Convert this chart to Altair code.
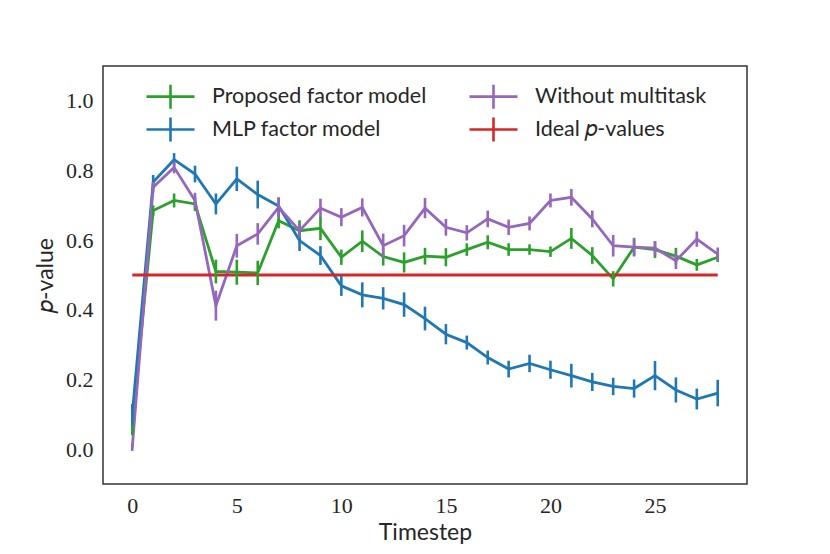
import altair as alt
import pandas as pd

timesteps = list(range(29))
proposed = [0.07, 0.685, 0.714, 0.704, 0.510, 0.508, 0.506, 0.656, 0.627, 0.634, 0.551, 0.597, 0.553, 0.536, 0.554,
            0.551, 0.573, 0.594, 0.573, 0.573, 0.567, 0.605, 0.556, 0.489, 0.580, 0.573, 0.554, 0.529, 0.551]
proposed_err = [0.03, 0.015, 0.02, 0.02, 0.034, 0.036, 0.035, 0.022, 0.03, 0.034, 0.022, 0.031, 0.026, 0.029, 0.024,
                0.026, 0.018, 0.02, 0.018, 0.015, 0.015, 0.03, 0.024, 0.022, 0.024, 0.024, 0.024, 0.017, 0.014]
mlp = [0.10, 0.767, 0.831, 0.790, 0.704, 0.776, 0.731, 0.698, 0.599, 0.556, 0.469, 0.443, 0.433, 0.415, 0.375,
       0.330, 0.306, 0.263, 0.230, 0.246, 0.228, 0.211, 0.193, 0.180, 0.174, 0.211, 0.170, 0.144, 0.161]
mlp_err = [0.03, 0.02, 0.019, 0.024, 0.03, 0.035, 0.04, 0.025, 0.03, 0.027, 0.029, 0.036, 0.032, 0.035, 0.034,
           0.029, 0.02, 0.02, 0.024, 0.025, 0.026, 0.034, 0.026, 0.025, 0.026, 0.042, 0.036, 0.03, 0.038]
without = [0.005, 0.752, 0.809, 0.714, 0.412, 0.584, 0.618, 0.694, 0.627, 0.692, 0.666, 0.694, 0.584, 0.613, 0.692,
           0.637, 0.621, 0.661, 0.637, 0.648, 0.714, 0.723, 0.661, 0.584, 0.580, 0.577, 0.541, 0.603, 0.560]
without_err = [0.01, 0.015, 0.017, 0.022, 0.043, 0.034, 0.031, 0.027, 0.02, 0.027, 0.026, 0.026, 0.035, 0.031, 0.029,
               0.024, 0.022, 0.024, 0.022, 0.02, 0.02, 0.024, 0.024, 0.031, 0.027, 0.02, 0.024, 0.022, 0.019]
ideal = [0.5] * 29
ideal_err = [0.0] * 29

series_names = ["Proposed factor model", "MLP factor model", "Without multitask", "Ideal 𝑝-values"]
series_vals = [proposed, mlp, without, ideal]
series_errs = [proposed_err, mlp_err, without_err, ideal_err]
series_colors = ["#2ca02c", "#1f77b4", "#9467bd", "#d62728"]

rows = []
for i, (name, vals, errs) in enumerate(zip(series_names, series_vals, series_errs)):
    for t, v, e in zip(timesteps, vals, errs):
        rows.append({"series": name, "idx": i, "t": t, "v": v, "lo": v - e, "hi": v + e})
df = pd.DataFrame(rows)

color = alt.Color("series:N",
                  scale=alt.Scale(domain=series_names, range=series_colors),
                  legend=alt.Legend(title=None, orient="none", legendX=42, legendY=17, columns=2,
                                    direction="vertical",
                                    symbolType="M-1,0H3M1,-1V1", symbolSize=576,
                                    symbolStrokeWidth=2.6, labelFont="Lato", labelFontSize=21.5,
                                    labelColor="#262626", rowPadding=-2, columnPadding=37,
                                    labelOffset=40, labelLimit=0, padding=0))

x = alt.X("t:Q", scale=alt.Scale(domain=[-1.4, 29.4], nice=False, zero=False),
          axis=alt.Axis(values=[0, 5, 10, 15, 20, 25], title="Timestep"))
y = alt.Y("v:Q", scale=alt.Scale(domain=[-0.1, 1.1], nice=False, zero=False),
          axis=alt.Axis(values=[0, 0.2, 0.4, 0.6, 0.8, 1.0], format=".1f", title="𝑝-value"))

lines = alt.Chart(df).mark_line(strokeWidth=2.8).encode(x=x, y=y, color=color, detail="series:N")
bars = alt.Chart(df).transform_filter(alt.datum.idx < 3).mark_rule(strokeWidth=2.6).encode(
    x="t:Q", y="lo:Q", y2="hi:Q", color=alt.Color("series:N", legend=None))

chart = alt.layer(lines, bars).properties(
    width=644, height=418,
    autosize=alt.AutoSizeParams(type="none"),
    padding={"left": 95, "top": 58, "right": 70, "bottom": 60},
).configure_view(stroke="#333333", strokeWidth=1.5).configure_axis(
    domain=False, ticks=False, grid=False,
    labelFont="Liberation Serif", labelFontSize=22, labelColor="#262626",
    titleFont="Lato", titleFontSize=23, titleFontWeight="normal", titleColor="#262626",
).configure_axisX(labelPadding=11, titlePadding=5).configure_axisY(labelPadding=10, titlePadding=8)

chart.save("out.html", embed_options={"renderer": "svg", "actions": False})
